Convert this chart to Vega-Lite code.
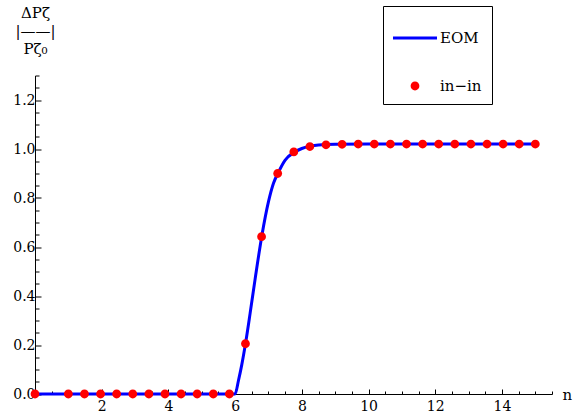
{
  "$schema": "https://vega.github.io/schema/vega-lite/v6.json",
  "width": 517,
  "height": 318.5,
  "autosize": "none",
  "padding": {"left": 35, "top": 75.5, "right": 22, "bottom": 25},
  "background": "white",
  "config": {
    "font": "DejaVu Serif",
    "view": {"stroke": null},
    "axis": {
      "grid": false,
      "domainColor": "black",
      "domainWidth": 1,
      "tickColor": "black",
      "tickWidth": 1,
      "labelColor": "black",
      "labelFont": "DejaVu Serif",
      "labelFontSize": 14,
      "labelFlush": false,
      "labelOverlap": false,
      "titleColor": "black",
      "titleFont": "DejaVu Serif",
      "titleFontSize": 15,
      "titleFontWeight": "normal"
    }
  },
  "datasets": {
    "eom": [
      {"n": 0, "value": 0, "series": "EOM"},
      {"n": 6.0, "value": 0, "series": "EOM"},
      {"n": 6.1, "value": 0.055, "series": "EOM"},
      {"n": 6.2, "value": 0.12, "series": "EOM"},
      {"n": 6.31, "value": 0.205, "series": "EOM"},
      {"n": 6.45, "value": 0.33, "series": "EOM"},
      {"n": 6.6, "value": 0.47, "series": "EOM"},
      {"n": 6.8, "value": 0.645, "series": "EOM"},
      {"n": 7.0, "value": 0.785, "series": "EOM"},
      {"n": 7.15, "value": 0.86, "series": "EOM"},
      {"n": 7.28, "value": 0.9, "series": "EOM"},
      {"n": 7.5, "value": 0.955, "series": "EOM"},
      {"n": 7.78, "value": 0.987, "series": "EOM"},
      {"n": 8.0, "value": 1.002, "series": "EOM"},
      {"n": 8.25, "value": 1.011, "series": "EOM"},
      {"n": 8.5, "value": 1.016, "series": "EOM"},
      {"n": 9.0, "value": 1.019, "series": "EOM"},
      {"n": 10.0, "value": 1.02, "series": "EOM"},
      {"n": 15.0, "value": 1.02, "series": "EOM"}
    ],
    "inin": [
      {"n": 0, "value": 0, "series": "in−in"},
      {"n": 1.0, "value": 0, "series": "in−in"},
      {"n": 1.483, "value": 0, "series": "in−in"},
      {"n": 1.966, "value": 0, "series": "in−in"},
      {"n": 2.448, "value": 0, "series": "in−in"},
      {"n": 2.931, "value": 0, "series": "in−in"},
      {"n": 3.414, "value": 0, "series": "in−in"},
      {"n": 3.897, "value": 0, "series": "in−in"},
      {"n": 4.379, "value": 0, "series": "in−in"},
      {"n": 4.862, "value": 0, "series": "in−in"},
      {"n": 5.345, "value": 0, "series": "in−in"},
      {"n": 5.828, "value": 0, "series": "in−in"},
      {"n": 6.31, "value": 0.205, "series": "in−in"},
      {"n": 6.793, "value": 0.642, "series": "in−in"},
      {"n": 7.276, "value": 0.9, "series": "in−in"},
      {"n": 7.759, "value": 0.988, "series": "in−in"},
      {"n": 8.241, "value": 1.01, "series": "in−in"},
      {"n": 8.724, "value": 1.017, "series": "in−in"},
      {"n": 9.207, "value": 1.019, "series": "in−in"},
      {"n": 9.69, "value": 1.02, "series": "in−in"},
      {"n": 10.172, "value": 1.02, "series": "in−in"},
      {"n": 10.655, "value": 1.02, "series": "in−in"},
      {"n": 11.138, "value": 1.02, "series": "in−in"},
      {"n": 11.621, "value": 1.02, "series": "in−in"},
      {"n": 12.103, "value": 1.02, "series": "in−in"},
      {"n": 12.586, "value": 1.02, "series": "in−in"},
      {"n": 13.069, "value": 1.02, "series": "in−in"},
      {"n": 13.552, "value": 1.02, "series": "in−in"},
      {"n": 14.034, "value": 1.02, "series": "in−in"},
      {"n": 14.517, "value": 1.02, "series": "in−in"},
      {"n": 15.0, "value": 1.02, "series": "in−in"}
    ]
  },
  "encoding": {
    "x": {
      "field": "n",
      "type": "quantitative",
      "scale": {"domain": [0, 15.5], "nice": false, "zero": false},
      "axis": {
        "title": "n",
        "titleX": 527,
        "titleY": 5,
        "titleAlign": "left",
        "titleBaseline": "alphabetic",
        "values": [0,0.5,1,1.5,2,2.5,3,3.5,4,4.5,5,5.5,6,6.5,7,7.5,8,8.5,9,9.5,10,10.5,11,11.5,12,12.5,13,13.5,14,14.5,15,15.5],
        "labelExpr": "datum.value > 0 && datum.value % 2 === 0 ? datum.value : ''",
        "tickSize": {"condition": {"test": "datum.value % 2 === 0", "value": -5}, "value": -3},
        "labelPadding": 10
      }
    },
    "y": {
      "field": "value",
      "type": "quantitative",
      "scale": {"domain": [0, 1.3], "nice": false, "zero": false},
      "axis": {
        "title": ["ΔPζ", "|——|", "Pζ₀"],
        "titleAngle": 0,
        "titleX": 0,
        "titleY": -58,
        "titleAlign": "center",
        "titleBaseline": "alphabetic",
        "titleLineHeight": 18,
        "values": [0,0.05,0.1,0.15,0.2,0.25,0.3,0.35,0.4,0.45,0.5,0.55,0.6,0.65,0.7,0.75,0.8,0.85,0.9,0.95,1,1.05,1.1,1.15,1.2,1.25,1.3],
        "labelExpr": "round(datum.value*100) % 20 === 0 ? format(datum.value, '.1f') : ''",
        "tickSize": {"condition": {"test": "round(datum.value*100) % 20 === 0", "value": -6}, "value": -4},
        "labelPadding": 6
      }
    }
  },
  "layer": [
    {
      "data": {"name": "eom"},
      "mark": {"type": "line", "color": "#0000ff", "strokeWidth": 3, "interpolate": "monotone"}
    },
    {
      "data": {"name": "inin"},
      "mark": {"type": "point", "filled": true, "opacity": 1, "size": 1936, "strokeWidth": 0},
      "encoding": {
        "color": {
          "field": "series",
          "type": "nominal",
          "scale": {"domain": ["EOM", "in−in"], "range": ["#0000ff", "#ff0000"]},
          "legend": {
            "title": null,
            "orient": "none",
            "legendX": 348,
            "legendY": -69.5,
            "padding": 10,
            "strokeColor": "black",
            "fillColor": "white",
            "symbolSize": 1936,
            "symbolStrokeWidth": 0,
            "symbolOpacity": 1,
            "rowPadding": 18,
            "labelOffset": 3,
            "labelFont": "DejaVu Serif",
            "labelFontSize": 15,
            "labelColor": "black"
          }
        },
        "shape": {
          "field": "series",
          "type": "nominal",
          "scale": {"domain": ["EOM", "in−in"], "range": ["M-1,-0.07H1V0.07H-1Z", "M-0.2,0A0.2,0.2,0,1,0,0.2,0A0.2,0.2,0,1,0,-0.2,0Z"]},
          "legend": {
            "title": null,
            "orient": "none",
            "legendX": 348,
            "legendY": -69.5,
            "padding": 10,
            "strokeColor": "black",
            "fillColor": "white",
            "symbolSize": 1936,
            "symbolStrokeWidth": 0,
            "symbolOpacity": 1,
            "rowPadding": 18,
            "labelOffset": 3,
            "labelFont": "DejaVu Serif",
            "labelFontSize": 15,
            "labelColor": "black"
          }
        }
      }
    }
  ]
}
